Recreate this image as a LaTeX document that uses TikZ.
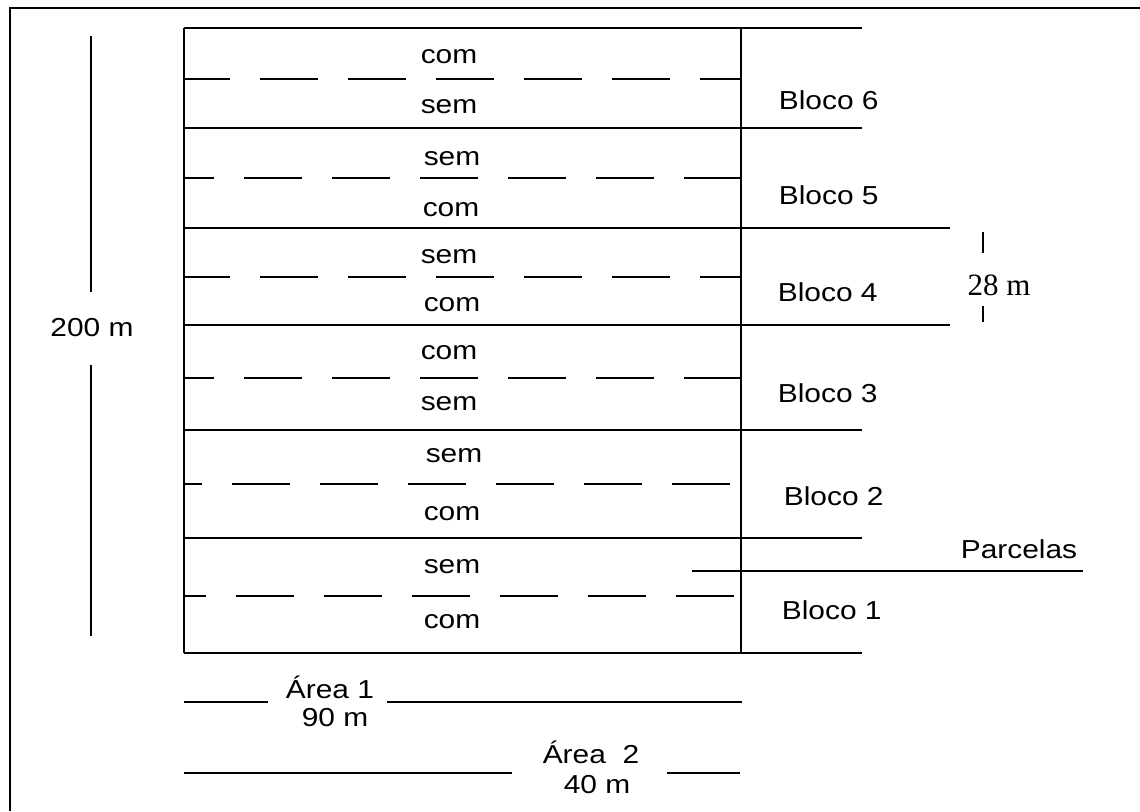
\documentclass[tikz,border=0pt]{standalone}
\usepackage{fontspec}
\newfontfamily\lbl{Liberation Sans}[FakeStretch=1.15]
\newfontfamily\tms{Liberation Serif}
\begin{document}
\begin{tikzpicture}[x=1pt,y=-1pt,line width=1.7pt,
  lab/.style={inner sep=0pt,font=\lbl\fontsize{26}{30}\selectfont},
  blk/.style={lab,anchor=west},
  frame/.style={line width=2.2pt}]
\useasboundingbox (0,0) rectangle (1140,811);
% outer frame (only left and top visible)
\coordinate (fb) at (10,811);
\coordinate (ftl) at (10,8);
\coordinate (ftr) at (1140,8);
\draw[frame] (fb) -- (ftl) -- (ftr);
% main block
\coordinate (tl) at (184,28);
\coordinate (bl) at (184,653);
\coordinate (tr) at (741,28);
\coordinate (br) at (741,653);
\draw (tl) -- (bl);
\draw (tr) -- (br);
% solid block separators
\foreach \yy/\xe in {28/862,128/862,228/950,325/950,430/862,538/862,653/862}{
  \coordinate (sa) at (184,\yy);
  \coordinate (sb) at (\xe,\yy);
  \draw (sa) -- (sb);
}
% dashed plot separators
\foreach \yy/\ph in {79/12,178/28,277/12,378/28,484/40,596/36}{
  \coordinate (da) at (184,\yy);
  \coordinate (db) at (741,\yy);
  \draw[dash pattern=on 58pt off 30pt,dash phase=\ph pt] (da) -- (db);
}
% plot labels
\node[lab] (p1) at (449,57) {com};
\node[lab] (p2) at (449,107) {sem};
\node[lab] (p3) at (452,159) {sem};
\node[lab] (p4) at (451,210) {com};
\node[lab] (p5) at (449,257) {sem};
\node[lab] (p6) at (452,305) {com};
\node[lab] (p7) at (449,353) {com};
\node[lab] (p8) at (449,404) {sem};
\node[lab] (p9) at (454,456) {sem};
\node[lab] (p10) at (452,514) {com};
\node[lab] (p11) at (452,567) {sem};
\node[lab] (p12) at (452,622) {com};
% block labels
\node[blk] (b6) at (778,100) {Bloco 6};
\node[blk] (b5) at (778,195) {Bloco 5};
\node[blk] (b4) at (777,292) {Bloco 4};
\node[blk] (b3) at (777,393) {Bloco 3};
\node[blk] (b2) at (783,496) {Bloco 2};
\node[blk] (b1) at (781,610) {Bloco 1};
% Parcelas
\node[lab] (parc) at (1019,549) {Parcelas};
\coordinate (pa) at (692,571);
\coordinate (pb) at (1083,571);
\draw (pa) -- (pb);
% 200 m
\node[lab] (h200) at (92,328) {200 m};
\coordinate (h1) at (91,36);
\coordinate (h2) at (91,292);
\coordinate (h3) at (91,365);
\coordinate (h4) at (91,636);
\draw (h1) -- (h2);
\draw (h3) -- (h4);
% 28 m
\node[inner sep=0pt,font=\tms\fontsize{31}{35}\selectfont] (m28) at (999,285) {28 m};
\coordinate (t1) at (983,232);
\coordinate (t2) at (983,253);
\coordinate (t3) at (983,306);
\coordinate (t4) at (983,322);
\draw (t1) -- (t2);
\draw (t3) -- (t4);
% Area 1
\node[lab] (a1) at (330,687) {Área 1};
\node[lab] (a1m) at (335,718) {90 m};
\coordinate (a1a) at (184,702);
\coordinate (a1b) at (268,702);
\coordinate (a1c) at (387,702);
\coordinate (a1d) at (742,702);
\draw (a1a) -- (a1b);
\draw (a1c) -- (a1d);
% Area 2
\node[lab] (a2) at (591,752) {Área~~2};
\node[lab] (a2m) at (597,785) {40 m};
\coordinate (a2a) at (184,773);
\coordinate (a2b) at (512,773);
\coordinate (a2c) at (667,773);
\coordinate (a2d) at (740,773);
\draw (a2a) -- (a2b);
\draw (a2c) -- (a2d);
\end{tikzpicture}
\end{document}
